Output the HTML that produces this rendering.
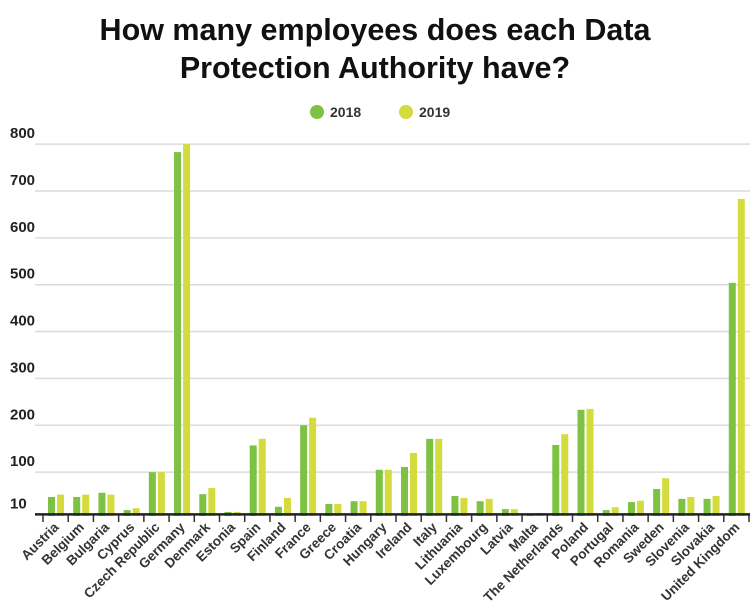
<!DOCTYPE html>
<html><head><meta charset="utf-8"><style>
body{margin:0;background:#fff;font-family:"Liberation Sans",sans-serif;}
#wrap{position:relative;width:750px;height:611px;overflow:hidden;}
h1{position:absolute;top:11px;left:0;width:750px;margin:0;text-align:center;font-size:30.5px;line-height:38px;font-weight:bold;color:#111;}
</style></head><body>
<div id="wrap">
<h1>How many employees does each Data<br>Protection Authority have?</h1>
<svg id="chart" width="750" height="611" style="position:absolute;left:0;top:0"></svg>
</div>
<script>
const categories=["Austria","Belgium","Bulgaria","Cyprus","Czech Republic","Germany","Denmark","Estonia","Spain","Finland","France","Greece","Croatia","Hungary","Ireland","Italy","Lithuania","Luxembourg","Latvia","Malta","The Netherlands","Poland","Portugal","Romania","Sweden","Slovenia","Slovakia","United Kingdom"];
const values2018=[47,47,56,19,100,783,53,15,157,26,200,32,38,105,111,171,49,38,21,11,158,233,19,36,64,43,43,504];
const values2019=[52,52,52,23,100,800,66,15,171,45,216,32,38,105,141,171,45,43,21,13,181,235,25,39,87,47,49,683];
const tickValues=[10,100,200,300,400,500,600,700,800];
const seriesNames=["2018","2019"];
const ns="http://www.w3.org/2000/svg";
const svg=document.getElementById('chart');
const x0=43,bandW=(749-x0)/categories.length,yMin=10;
function y(v){return 519-v*0.4686;}
function xBand(i){return x0+i*bandW;}
function mk(t,a){const e=document.createElementNS(ns,t);for(const k in a)e.setAttribute(k,a[k]);svg.appendChild(e);return e;}
tickValues.forEach(v=>{
  if(v>yMin){const g=mk('line',{x1:35,x2:750,y1:y(v),y2:y(v),stroke:'#dcdcdc','stroke-width':1.5});
  
  }
  const t=mk('text',{x:10,y:y(v)-6,'font-size':15,'font-weight':'bold',fill:'#222'});
  t.textContent=v;
  
  
});
const cols=['#7dc243','#d3dc3c'];
categories.forEach((c,i)=>{
  const bx=xBand(i);
  [values2018,values2019].forEach((arr,s)=>{
    const r=mk('rect',{x:bx+5+s*9,y:y(arr[i]),width:7,height:y(0)-y(arr[i]),fill:cols[s]});
    
    
  });
  const cx=bx+bandW/2+4;
  const t=mk('text',{x:cx,y:528,'font-size':13.5,'font-weight':'bold',fill:'#333','text-anchor':'end',transform:`rotate(-45 ${cx} 528)`});
  t.textContent=c;
  
  
});
const mask=mk('rect',{x:35,y:516,width:715,height:6,fill:'#fff'});


categories.forEach((c,i)=>{
  const bx=xBand(i);
  const tk=mk('line',{x1:bx,x2:bx,y1:515,y2:522,stroke:'#333','stroke-width':1.5});
  
  
});
const lt=mk('line',{x1:749,x2:749,y1:515,y2:522,stroke:'#333','stroke-width':1.5});


const ax=mk('line',{x1:35,x2:750,y1:y(yMin),y2:y(yMin),stroke:'#222','stroke-width':2.5});


seriesNames.forEach((n,s)=>{
  const lx=317+s*89;
  const c=mk('circle',{cx:lx,cy:112,r:7,fill:cols[s]});
  
  
  const t=mk('text',{x:lx+13,y:117,'font-size':14,'font-weight':'bold',fill:'#333'});
  t.textContent=n;
  
  
});
</script>
</body></html>
